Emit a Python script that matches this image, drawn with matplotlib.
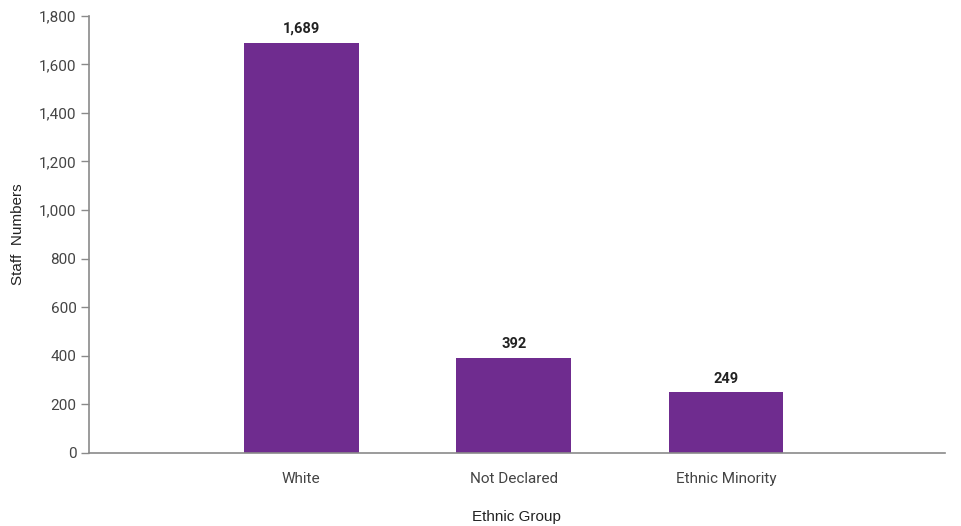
import matplotlib.pyplot as plt
import numpy as np

categories = ['White', 'Not Declared', 'Ethnic Minority']
staff_numbers = [1689, 392, 249]
y_ticks = [0, 200, 400, 600, 800, 1000, 1200, 1400, 1600, 1800]

narrow = ['Liberation Sans Narrow', 'Roboto', 'DejaVu Sans']
regular = ['Liberation Sans', 'DejaVu Sans']
bar_color = '#6f2c8f'
axis_color = '#8a8a8a'

figure, axes = plt.subplots(figsize=(9.62, 5.26), dpi=100)
figure.subplots_adjust(left=0.0925, right=0.982, top=0.97, bottom=0.139)

x = np.arange(len(categories))
bars = axes.bar(x, staff_numbers, width=0.54, color=bar_color, zorder=2)

# value labels above bars
for xi, v in zip(x, staff_numbers):
    axes.text(xi, v + 28, '{:,}'.format(v), ha='center', va='bottom',
              fontsize=10.5, fontweight='bold', color='#222222', family=narrow)

axes.set_xlim(-1, 3.03)
axes.set_ylim(0, 1800)
axes.set_yticks(y_ticks)
axes.set_yticklabels(['{:,}'.format(t) for t in y_ticks], family=narrow,
                     fontsize=11, color='#444444')
axes.set_xticks(x)
axes.set_xticklabels(categories, family=narrow, fontsize=11, color='#444444')
axes.tick_params(axis='x', length=0, pad=14)
axes.tick_params(axis='y', length=6, width=1, color=axis_color, pad=3)

for side in ['top', 'right']:
    axes.spines[side].set_visible(False)
for side in ['left', 'bottom']:
    axes.spines[side].set_color(axis_color)
    axes.spines[side].set_linewidth(1.2)

axes.set_ylabel('Staff  Numbers', family=regular, fontsize=11, color='#222222', labelpad=10)
axes.set_xlabel('Ethnic Group', family=regular, fontsize=11, color='#222222', labelpad=17)

figure.savefig('out.png', dpi=100)
